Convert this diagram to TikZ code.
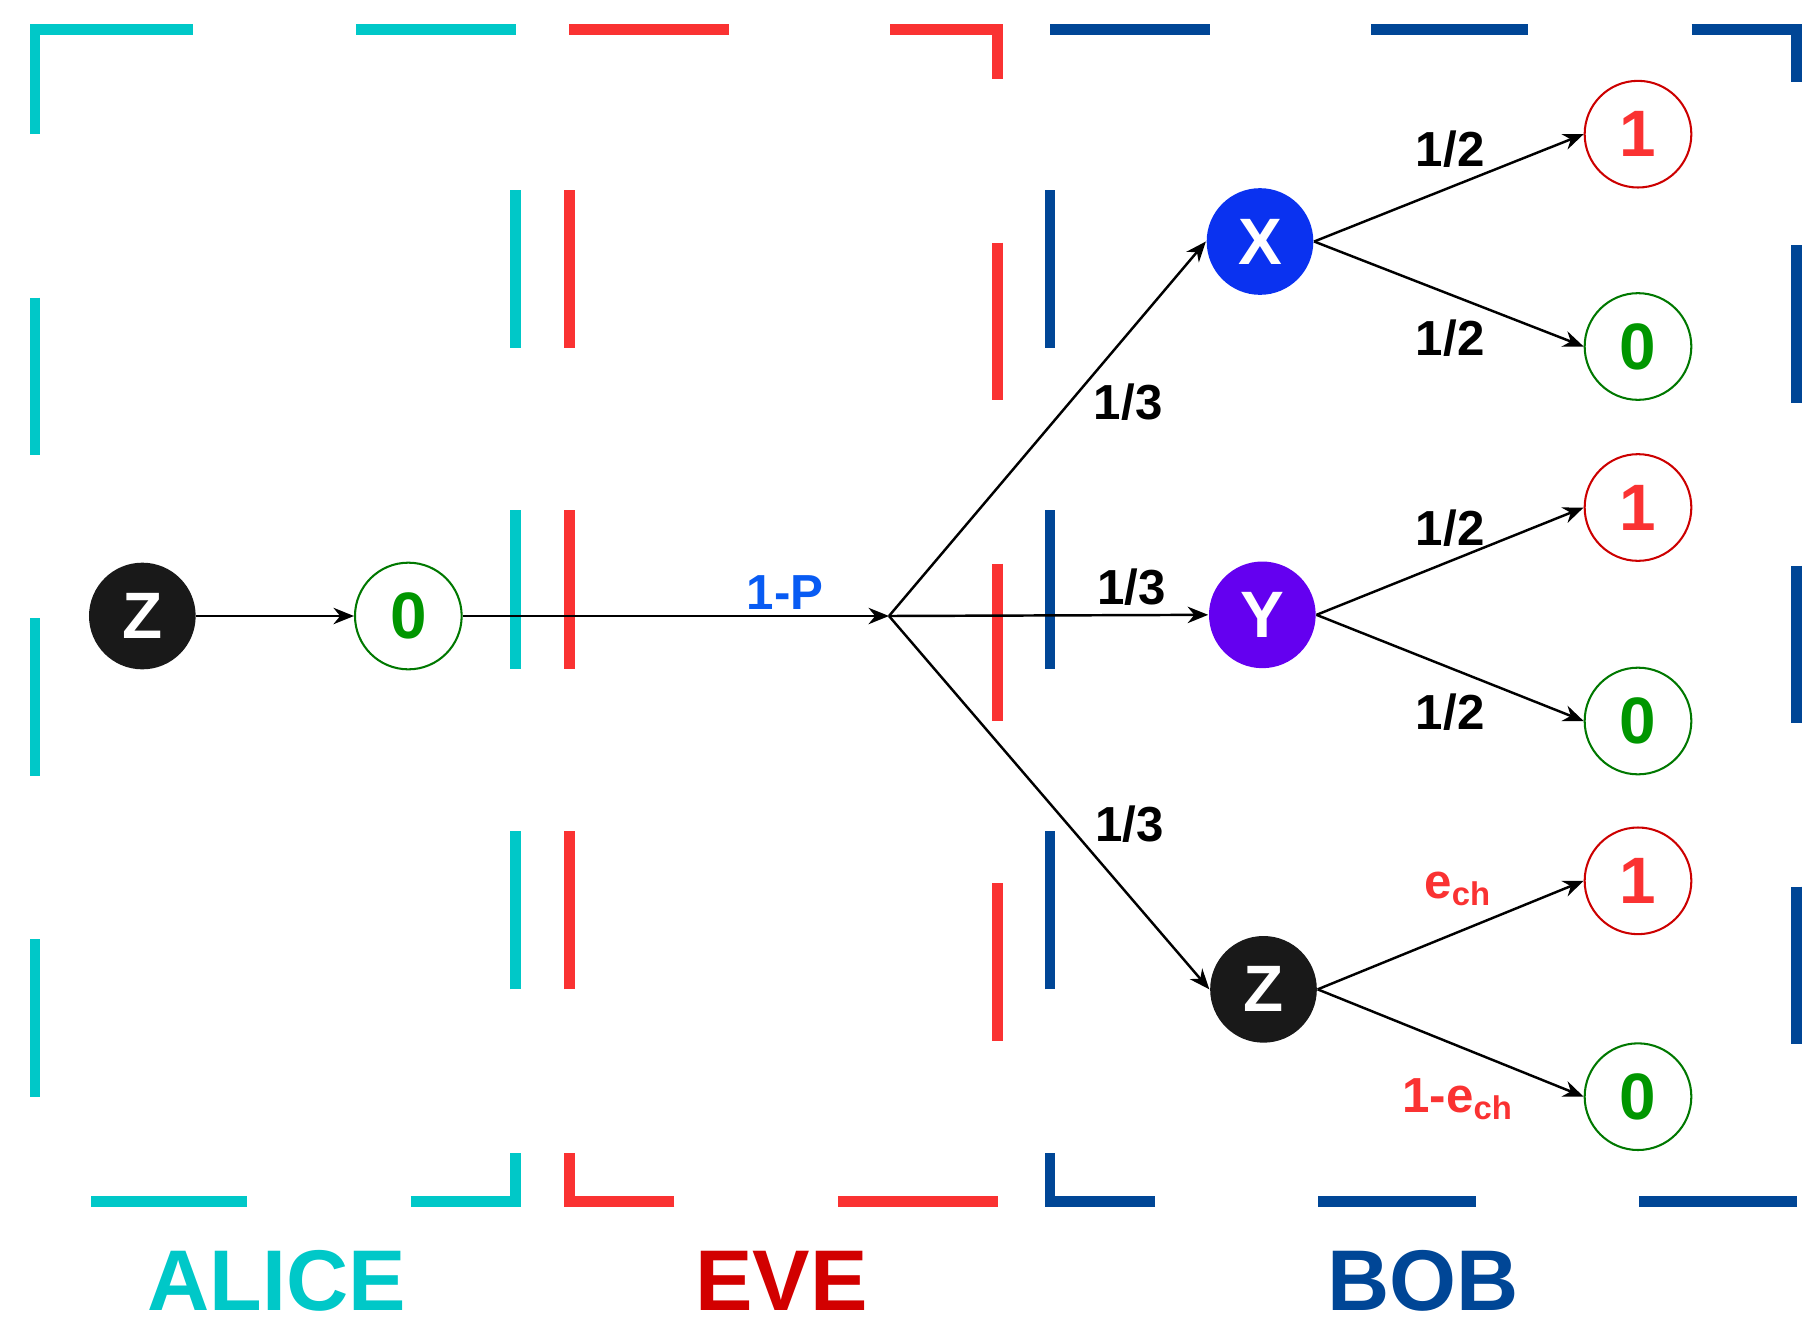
\documentclass[tikz,border=0pt]{standalone}
\usepackage{fontspec}
\setmainfont{Liberation Sans}
\usetikzlibrary{arrows.meta}
\definecolor{alicec}{RGB}{0,200,200}
\definecolor{evec}{RGB}{250,50,50}
\definecolor{evet}{RGB}{210,0,0}
\definecolor{bobc}{RGB}{0,70,150}
\definecolor{zerog}{RGB}{0,150,0}
\definecolor{xblue}{RGB}{10,50,240}
\definecolor{ypur}{RGB}{100,0,240}
\tikzset{
 wall/.style={line width=2.6pt},
 basis/.style={circle,minimum size=26pt,inner sep=0pt,text=white,font=\fontsize{16}{16}\bfseries},
 bit/.style={circle,draw,line width=0.5pt,minimum size=26pt,inner sep=0pt,font=\fontsize{16}{16}\bfseries},
 prob/.style={font=\fontsize{12}{12}\bfseries},
 party/.style={font=\fontsize{21}{21}\bfseries},
 arr/.style={-{Stealth[length=5pt,width=4pt]},line width=0.6pt}
}
\begin{document}
\begin{tikzpicture}[x=0.01cm,y=-0.01cm]
\useasboundingbox(0,0)rectangle(1560,1136);
% alice
\draw[wall,alicec](30,115)--(30,25)--(165,25)(305,25)--(442,25)
 (30,255)--(30,390)(30,530)--(30,665)(30,805)--(30,940)
 (78,1030)--(212,1030)(352,1030)--(442,1030)--(442,988)
 (442,848)--(442,712)(442,573)--(442,437)(442,298)--(442,163);
% eve
\draw[wall,evec](488,25)--(625,25)(763,25)--(855,25)--(855,68)
 (855,208)--(855,343)(855,483)--(855,618)(855,757)--(855,892)
 (855,1030)--(718,1030)(578,1030)--(488,1030)--(488,988)
 (488,848)--(488,712)(488,573)--(488,437)(488,298)--(488,163);
% bob
\draw[wall,bobc](900,25)--(1037,25)(1175,25)--(1310,25)(1450,25)--(1540,25)--(1540,70)
 (1540,210)--(1540,345)(1540,485)--(1540,620)(1540,760)--(1540,895)
 (1540,1030)--(1405,1030)(1265,1030)--(1130,1030)(990,1030)--(900,1030)--(900,988)
 (900,848)--(900,712)(900,573)--(900,437)(900,298)--(900,163);
% nodes
\node[basis,fill=black!90](za)at(122,528){Z};
\node[bit,draw=zerog!80!black,text=zerog](a0)at(350,528){0};
\coordinate(J)at(762,528);
\node[basis,fill=xblue](bx)at(1080,207){X};
\node[basis,fill=ypur](by)at(1082,527){Y};
\node[basis,fill=black!90](bz)at(1083,848){Z};
\node[bit,draw=red!80!black,text=evec](x1)at(1404,115){1};
\node[bit,draw=zerog!80!black,text=zerog](x0)at(1404,297){0};
\node[bit,draw=red!80!black,text=evec](y1)at(1404,435){1};
\node[bit,draw=zerog!80!black,text=zerog](y0)at(1404,618){0};
\node[bit,draw=red!80!black,text=evec](z1)at(1404,755){1};
\node[bit,draw=zerog!80!black,text=zerog](z0)at(1404,940){0};
% edges
\draw[arr](za)--(a0);
\draw[arr](a0)--(J);
\draw[arr](J)--(bx.west);
\draw[arr](J)--(by.west);
\draw[arr](J)--(bz.west);
\draw[arr](bx.east)--(x1.west);
\draw[arr](bx.east)--(x0.west);
\draw[arr](by.east)--(y1.west);
\draw[arr](by.east)--(y0.west);
\draw[arr](bz.east)--(z1.west);
\draw[arr](bz.east)--(z0.west);
% labels
\node[prob,text=xblue!80!cyan](lp)at(673,508){1-P};
\node[prob](l1)at(967,345){1/3};
\node[prob](l2)at(970,503){1/3};
\node[prob](l3)at(968,706){1/3};
\node[prob](l4)at(1243,128){1/2};
\node[prob](l5)at(1243,290){1/2};
\node[prob](l6)at(1243,453){1/2};
\node[prob](l7)at(1243,610){1/2};
\node[prob,text=evec](l8)at(1250,762){e\textsubscript{ch}};
\node[prob,text=evec](l9)at(1250,942){1-e\textsubscript{ch}};
\node[party,text=alicec](alice)at(237,1098){ALICE};
\node[party,text=evet](eve)at(670,1098){EVE};
\node[party,text=bobc](bob)at(1220,1098){BOB};
\end{tikzpicture}
\end{document}
